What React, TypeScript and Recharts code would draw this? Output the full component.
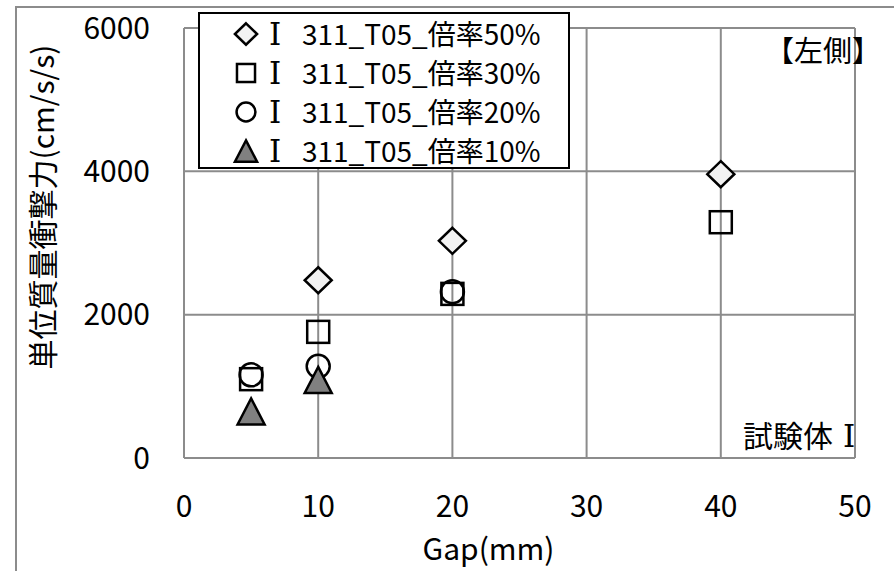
import React from 'react';
import { ScatterChart, Scatter, XAxis, YAxis, CartesianGrid, Legend } from 'recharts';

const xTicks = [0, 10, 20, 30, 40, 50];
const yTicks = [0, 2000, 4000, 6000];

// Gap (mm) and 単位質量衝撃力
const gap50 = [10, 20, 40];
const force50 = [2480, 3030, 3960];
const gap30 = [5, 10, 20, 40];
const force30 = [1100, 1760, 2290, 3290];
const gap20 = [5, 10, 20];
const force20 = [1160, 1280, 2320];
const gap10 = [5, 10];
const force10 = [650, 1090];

const seriesNames = ['Ⅰ 311_T05_倍率50%', 'Ⅰ 311_T05_倍率30%', 'Ⅰ 311_T05_倍率20%', 'Ⅰ 311_T05_倍率10%'];

const FONT = "'Noto Sans CJK JP', 'Noto Sans', sans-serif";
const SERIF = "'DejaVu Serif', 'Liberation Serif', serif";
const GRID = '#8c8c8c';

type Kind = 'diamond' | 'square' | 'circle' | 'triangle';

const toPoints = (xs: number[], ys: number[]) => xs.map((x, i) => ({ gap: x, force: ys[i] }));

const series: { name: string; kind: Kind; data: { gap: number; force: number }[] }[] = [
  { name: seriesNames[0], kind: 'diamond', data: toPoints(gap50, force50) },
  { name: seriesNames[1], kind: 'square', data: toPoints(gap30, force30) },
  { name: seriesNames[2], kind: 'circle', data: toPoints(gap20, force20) },
  { name: seriesNames[3], kind: 'triangle', data: toPoints(gap10, force10) },
];

function Marker({ kind, cx, cy, scale = 1 }: { kind: Kind; cx: number; cy: number; scale?: number }) {
  const sw = 2.5;
  if (kind === 'diamond') {
    const w = 13.5 * scale, h = 13 * scale;
    return <polygon points={`${cx},${cy - h} ${cx + w},${cy} ${cx},${cy + h} ${cx - w},${cy}`} fill="#f2f2f2" stroke="#000" strokeWidth={sw} />;
  }
  if (kind === 'square') {
    const h = 11 * scale;
    return <rect x={cx - h} y={cy - h} width={h * 2} height={h * 2} fill="none" stroke="#000" strokeWidth={sw} />;
  }
  if (kind === 'circle') {
    return <circle cx={cx} cy={cy} r={11.5 * scale} fill="none" stroke="#000" strokeWidth={sw} />;
  }
  const w = 13.5 * scale, h = 13 * scale;
  return <polygon points={`${cx},${cy - h} ${cx + w},${cy + h} ${cx - w},${cy + h}`} fill="#808080" stroke="#000" strokeWidth={sw} />;
}

function LegendBox() {
  return (
    <div style={{ position: 'relative', width: 368, height: 153, border: '2px solid #000', background: '#fff', boxSizing: 'content-box', fontFamily: FONT }}>
      {series.map((s, i) => {
        const [roman, rest] = s.name.split(' ');
        return (
          <div key={s.name} style={{ position: 'absolute', left: 0, top: i * 39, width: 368, height: 39 }}>
            <svg width={60} height={39} style={{ position: 'absolute', left: 0, top: 0 }}>
              <Marker kind={s.kind} cx={46} cy={20} scale={0.82} />
            </svg>
            <span style={{ position: 'absolute', left: 69, top: 1, fontFamily: SERIF, fontSize: 31, lineHeight: '39px', color: '#000' }}>{roman}</span>
            <span style={{ position: 'absolute', left: 102, top: 0, fontSize: 28, lineHeight: '39px', color: '#000', whiteSpace: 'pre' }}>{rest}</span>
          </div>
        );
      })}
    </div>
  );
}

function YTitle(props: any) {
  const vb = props.viewBox || { x: 0, y: 28, width: 184, height: 430 };
  const cx = vb.x + 41;
  const cy = vb.y + vb.height / 2 - 36;
  return (
    <text x={cx} y={cy} transform={`rotate(-90, ${cx}, ${cy})`} textAnchor="middle" dominantBaseline="central" fontSize={30} fontFamily={FONT} fill="#000">
      単位質量衝撃力(cm/s/s)
    </text>
  );
}

function XTitle(props: any) {
  const vb = props.viewBox || { x: 184, y: 458, width: 671, height: 113 };
  const cx = vb.x + vb.width / 2 - 31;
  const cy = vb.y + 89;
  return (
    <text x={cx} y={cy} textAnchor="middle" dominantBaseline="central" fontSize={30} fontFamily={FONT} fill="#000">
      Gap(mm)
    </text>
  );
}

export default function App() {
  return (
    <div style={{ position: 'absolute', left: 0, top: 0, width: 894, height: 571, overflow: 'hidden', background: '#fff' }}>
      <div style={{ position: 'absolute', left: 15, top: 6, width: 900, height: 600, borderLeft: `2px solid ${GRID}`, borderTop: `2px solid ${GRID}` }} />
      <div style={{ position: 'absolute', left: 0, top: 0 }}>
        <ScatterChart width={894} height={571} margin={{ top: 28, right: 39, bottom: 0, left: 0 }}>
          <CartesianGrid stroke={GRID} strokeWidth={2} />
          <XAxis
            type="number"
            dataKey="gap"
            domain={[0, 50]}
            ticks={xTicks}
            height={113}
            tickLine={false}
            tickSize={0}
            tickMargin={38}
            axisLine={{ stroke: GRID, strokeWidth: 2 }}
            tick={{ fontSize: 30, fontFamily: FONT, fill: '#000' }}
            label={XTitle}
          />
          <YAxis
            type="number"
            dataKey="force"
            domain={[0, 6000]}
            ticks={yTicks}
            width={184}
            tickLine={false}
            tickSize={0}
            tickMargin={34}
            axisLine={{ stroke: GRID, strokeWidth: 2 }}
            tick={{ fontSize: 30, fontFamily: FONT, fill: '#000' }}
            label={YTitle}
          />
          {series.map((s) => (
            <Scatter
              key={s.name}
              name={s.name}
              data={s.data}
              isAnimationActive={false}
              shape={(p: any) => <Marker kind={s.kind} cx={p.cx} cy={p.cy} />}
            />
          ))}
          <Legend
            layout="vertical"
            align="center"
            verticalAlign="middle"
            wrapperStyle={{ left: 198, top: 12, width: 372, height: 157 }}
            content={() => <LegendBox />}
          />
        </ScatterChart>
      </div>
      <div style={{ position: 'absolute', left: 765, top: 35, fontSize: 29, lineHeight: '29px', fontFamily: FONT, whiteSpace: 'nowrap', color: '#000' }}>【左側】</div>
      <div style={{ position: 'absolute', left: 743, top: 419, fontSize: 30, lineHeight: '30px', fontFamily: FONT, whiteSpace: 'nowrap', color: '#000' }}>
        試験体<span style={{ fontFamily: SERIF, fontSize: 31, marginLeft: 10 }}>Ⅰ</span>
      </div>
    </div>
  );
}
